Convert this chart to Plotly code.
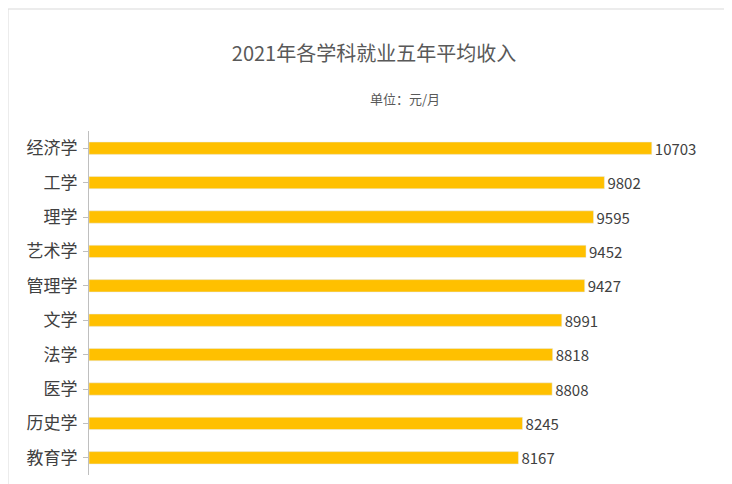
import plotly.graph_objects as go

categories = ["经济学", "工学", "理学", "艺术学", "管理学", "文学", "法学", "医学", "历史学", "教育学"]
values = [10703, 9802, 9595, 9452, 9427, 8991, 8818, 8808, 8245, 8167]

fig = go.Figure(go.Bar(
    x=values, y=categories, orientation="h",
    marker_color="#FFC000", width=0.36,
    text=[str(v) for v in values], textposition="outside", constraintext="none",
    textfont=dict(size=15, color="#404040"), cliponaxis=False,
))
fig.update_layout(
    width=732, height=484,
    margin=dict(l=81, r=20, t=123, b=17, autoexpand=False),
    paper_bgcolor="white", plot_bgcolor="white",
    font=dict(family="Noto Sans CJK SC, sans-serif", color="#404040"),
    showlegend=False,
    title=dict(text="2021年各学科就业五年平均收入", x=0.5, xanchor="center", y=0.905, yanchor="middle",
               font=dict(size=20, color="#595959")),
    annotations=[dict(text="单位：元/月", x=0.5, xref="paper", yref="paper", showarrow=False,
                      y=(484 - 17 - 90) / (484 - 123 - 17), yanchor="middle",
                      font=dict(size=13, color="#595959"))],
)
fig.update_xaxes(range=[0, 12000], visible=False, automargin=False)
fig.update_yaxes(autorange="reversed", showline=True, linecolor="#BFBFBF", linewidth=1,
                 ticks="outside", ticklen=5, tickcolor="#BFBFBF", automargin=False,
                 tickfont=dict(size=17, color="#404040"), ticklabelstandoff=2)
fig.add_shape(type="rect", xref="paper", yref="paper", x0=-81/631, x1=1+19/631,
              y0=-16/344, y1=1+122/344, line=dict(color="#D9D9D9", width=1))
fig.write_html("out.html")
